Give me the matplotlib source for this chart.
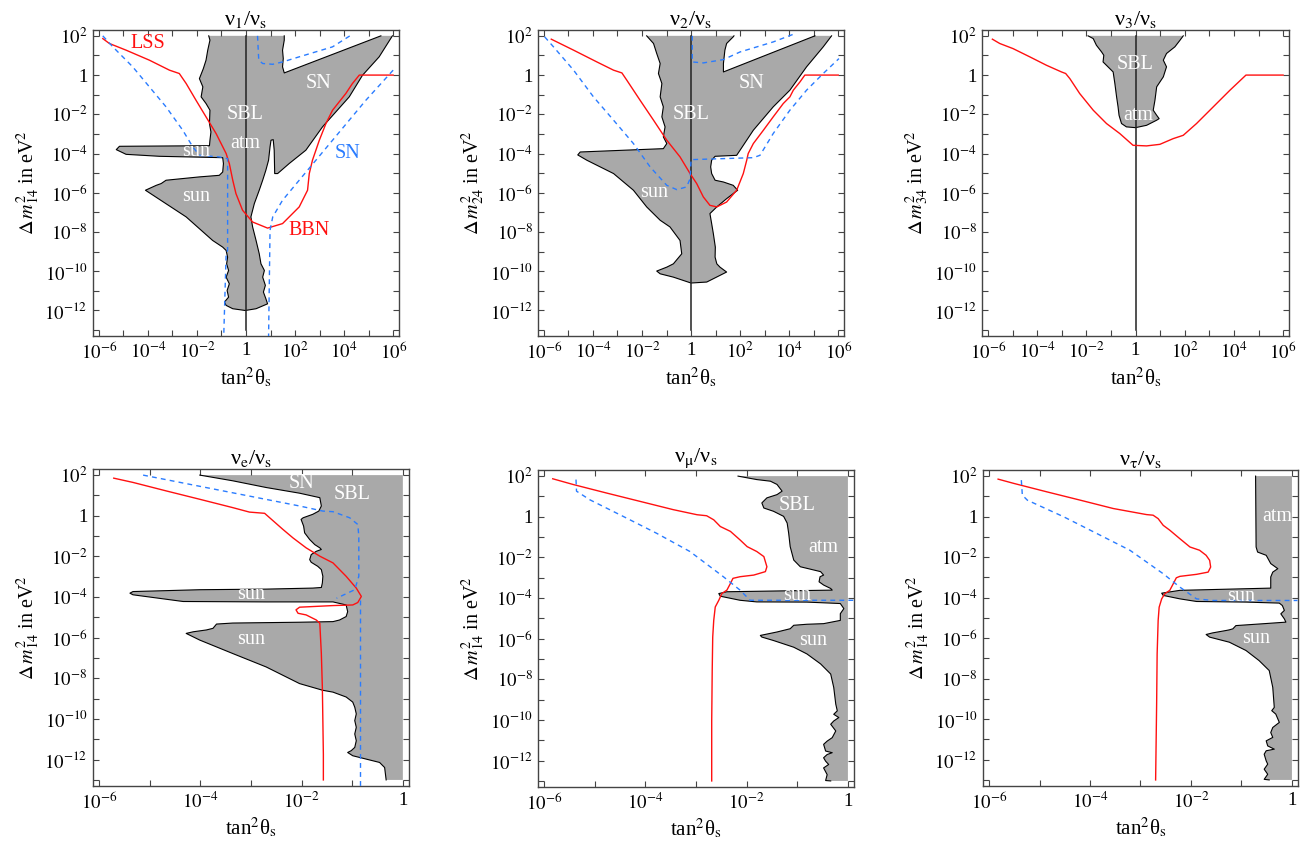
import numpy as np
import matplotlib
matplotlib.use('Agg')
import matplotlib.pyplot as plt
from matplotlib.ticker import FixedLocator, FixedFormatter, NullFormatter

plt.rcParams['font.family'] = ['Liberation Serif', 'DejaVu Serif']
plt.rcParams['mathtext.fontset'] = 'stix'

GREY = '#a9a9a9'
RED = '#ff1010'
BLUE = '#2a7cff'
FRAME = '#444444'

# all values are log10 exponents: (log10 tan^2 theta_s, log10 dm^2)
# ---- panel 1: nu_1 / nu_s ----
P1_GRAY = [(-1.52, 2.0), (-1.47, 1.78), (-1.56, 1.27), (-1.63, 0.76), (-1.74, 0.33), (-1.90, -0.18),
           (-1.76, -0.60), (-1.83, -1.11), (-1.63, -1.45), (-1.47, -1.79), (-1.49, -2.47), (-1.43, -2.90),
           (-1.47, -3.32), (-1.49, -3.60), (-5.16, -3.63), (-5.29, -3.80), (-4.89, -4.04), (-3.53, -4.14),
           (-0.95, -4.21), (-0.92, -4.51), (-0.95, -4.94), (-1.09, -5.11), (-1.90, -5.19), (-3.26, -5.36),
           (-3.46, -5.53), (-3.66, -5.62), (-4.10, -5.87), (-2.44, -7.23), (-1.36, -8.43), (-0.95, -8.77),
           (-0.81, -8.94), (-0.75, -9.28), (-0.79, -9.62), (-0.71, -9.96), (-0.81, -10.30), (-0.68, -10.64),
           (-0.77, -10.98), (-0.71, -11.32), (-0.88, -11.57), (-0.81, -11.74), (-0.54, -11.91), (-0.03, -12.0),
           (0.41, -11.91), (0.88, -11.66), (0.81, -11.40), (0.71, -11.06), (0.79, -10.72), (0.68, -10.30),
           (0.75, -9.96), (0.61, -9.62), (0.54, -9.11), (0.41, -8.43), (0.27, -7.74), (0.20, -7.23),
           (0.34, -6.55), (0.54, -5.87), (0.68, -5.36), (0.81, -4.85), (0.92, -4.34), (0.98, -3.66),
           (1.02, -3.32), (1.11, -3.29), (1.15, -3.83), (1.17, -5.02), (1.29, -5.02), (1.76, -4.51),
           (2.44, -3.83), (3.12, -2.64), (4.21, -1.11), (4.75, -0.01), (5.43, 0.93), (5.97, 2.0),
           (5.50, 2.0), (1.56, 0.11), (1.49, 0.42), (1.52, 0.84), (1.49, 1.27), (1.56, 1.78), (1.56, 2.0)]
P1_RED = [(-5.84, 1.86), (-5.57, 1.61), (-4.89, 1.27), (-3.94, 0.76), (-3.12, 0.25), (-2.72, 0.08),
          (-2.44, -0.43), (-2.04, -1.28), (-1.63, -2.13), (-1.22, -2.98), (-0.81, -4.00), (-0.68, -4.51),
          (-0.54, -5.36), (-0.41, -6.04), (-0.14, -6.89), (0.27, -7.49), (0.88, -7.80), (1.49, -7.57),
          (2.17, -6.72), (2.51, -5.87), (2.58, -5.02), (2.71, -4.34), (2.99, -3.32), (3.26, -2.47),
          (3.53, -1.79), (4.07, -0.94), (4.34, -0.43), (4.62, 0.0), (6.0, 0.0)]
P1_BLUE = [
    [(-5.84, 2.0), (-5.43, 1.44), (-4.62, 0.42), (-3.94, -0.60), (-3.26, -1.62), (-2.58, -2.81),
     (-2.17, -3.66), (-1.90, -4.09), (-1.09, -4.17), (-0.75, -4.26), (-0.75, -8.94), (-0.81, -9.11),
     (-0.91, -13.4)],
    [(0.47, 2.0), (0.52, 0.76), (0.68, 0.59), (1.09, 0.55), (1.49, 0.67), (2.17, 0.93), (3.53, 1.44),
     (4.30, 2.05)],
    [(6.0, 0.25), (4.89, -1.28), (3.53, -3.32), (2.17, -5.36), (1.49, -6.38), (1.09, -7.23),
     (0.98, -7.91), (0.92, -13.4)],
]
P1_LABELS = [('LSS', -4.0, 1.6, RED), ('BBN', 2.58, -7.9, RED), ('SN', 4.14, -4.0, BLUE),
             ('SN', 2.96, -0.43, 'white'), ('SBL', -0.03, -2.0, 'white'), ('atm', -0.03, -3.49, 'white'),
             ('sun', -2.04, -3.92, 'white'), ('sun', -2.04, -6.21, 'white')]

# ---- panel 2: nu_2 / nu_s ----
P2_GRAY = [(-1.81, 2.0), (-1.53, 1.61), (-1.40, 1.10), (-1.26, 0.59), (-1.33, 0.08), (-1.19, -0.43),
           (-1.26, -1.11), (-1.13, -1.62), (-1.19, -2.13), (-1.06, -2.64), (-1.13, -3.15), (-0.99, -3.49),
           (-1.13, -3.75), (-4.52, -3.92), (-4.62, -4.07), (-4.25, -4.34), (-3.16, -5.02), (-2.35, -5.87),
           (-1.81, -6.72), (-1.26, -7.40), (-0.86, -7.74), (-0.45, -8.43), (-0.38, -9.11), (-0.72, -9.62),
           (-0.99, -9.79), (-1.40, -9.99), (-1.26, -10.13), (-0.72, -10.30), (0.0, -10.60), (0.64, -10.55),
           (1.45, -10.04), (1.18, -9.79), (1.05, -9.62), (0.98, -9.28), (0.99, -8.77), (0.91, -8.09),
           (0.84, -7.57), (0.77, -7.06), (1.05, -6.72), (1.45, -6.30), (1.90, -5.87), (1.72, -5.62),
           (1.32, -5.45), (0.98, -5.36), (0.84, -5.02), (0.80, -4.68), (0.84, -4.34), (0.98, -4.14),
           (1.86, -4.09), (2.54, -2.81), (3.35, -1.62), (4.03, -0.77), (4.71, 0.42), (5.39, 1.44),
           (5.73, 2.0), (5.05, 2.0), (1.32, 0.16), (1.32, 0.59), (1.38, 1.27), (1.45, 1.61), (1.72, 1.95),
           (1.75, 2.0)]
P2_RED = [(-5.70, 1.83), (-4.79, 1.27), (-3.84, 0.67), (-3.16, 0.25), (-2.82, 0.11), (-2.62, -0.26),
          (-2.08, -1.28), (-1.53, -2.30), (-0.99, -3.32), (-0.45, -4.17), (-0.04, -5.02), (0.23, -5.53),
          (0.50, -6.21), (0.77, -6.64), (1.05, -6.72), (1.45, -6.47), (1.86, -5.87), (2.13, -5.02),
          (2.27, -4.34), (2.33, -4.0), (2.54, -3.49), (2.95, -2.81), (3.35, -2.13), (3.76, -1.45),
          (4.03, -1.11), (4.17, -0.77), (4.44, -0.35), (4.64, 0.0), (6.0, 0.0)]
P2_BLUE = [
    [(-5.97, 1.95), (-5.61, 1.44), (-4.79, 0.25), (-3.98, -1.11), (-3.16, -2.30), (-2.35, -3.49),
     (-1.67, -4.68), (-0.99, -5.62), (-0.58, -5.84), (-0.18, -5.70), (-0.04, -5.28), (0.0, -4.31),
     (2.54, -4.21), (2.81, -4.09), (3.35, -2.98), (4.03, -1.79), (4.71, -0.77), (5.39, 0.08),
     (6.03, 0.84)],
    [(0.05, 2.0), (0.05, 0.67), (0.50, 0.62), (1.32, 0.79), (2.0, 1.18), (3.35, 1.69), (4.17, 2.08)],
]
P2_LABELS = [('SN', 2.47, -0.43, 'white'), ('SBL', 0.0, -2.0, 'white'), ('sun', -1.51, -6.01, 'white')]

# ---- panel 3: nu_3 / nu_s ----
P3_GRAY = [(-1.93, 2.0), (-1.72, 1.86), (-1.59, 1.52), (-1.38, 1.18), (-1.29, 1.01), (-1.32, 0.67),
           (-0.91, 0.16), (-0.84, -0.43), (-0.77, -1.11), (-0.71, -1.62), (-0.67, -2.05), (-0.57, -2.47),
           (-0.37, -2.64), (0.0, -2.68), (0.45, -2.56), (0.86, -2.30), (0.96, -2.22), (0.86, -2.05),
           (0.72, -1.79), (0.79, -1.28), (0.86, -0.60), (1.13, -0.09), (1.26, 0.42), (1.13, 0.76),
           (1.26, 1.10), (1.60, 1.44), (1.81, 1.78), (1.94, 2.0)]
P3_RED = [(-5.82, 1.83), (-5.52, 1.61), (-4.98, 1.35), (-4.30, 0.93), (-3.62, 0.50), (-3.01, 0.16),
          (-2.84, 0.08), (-2.67, -0.18), (-2.27, -0.94), (-1.72, -1.79), (-1.18, -2.47), (-0.64, -2.98),
          (-0.10, -3.58), (0.45, -3.61), (0.99, -3.53), (1.53, -3.24), (1.94, -3.07), (2.48, -2.47),
          (3.16, -1.62), (3.84, -0.77), (4.49, 0.0), (6.0, 0.0)]
P3_BLUE = []
P3_LABELS = [('SBL', 0.0, 0.54, 'white'), ('atm', 0.1, -2.05, 'white')]

# ---- panel 4: nu_e / nu_s ----
P4_GRAY = [(-4.01, 2.0), (-3.36, 1.72), (-2.70, 1.39), (-2.04, 1.11), (-1.64, 0.89), (-1.61, 0.48),
           (-1.66, 0.23), (-1.78, 0.07), (-1.97, -0.10), (-2.01, -0.18), (-1.96, -0.51), (-1.94, -0.84),
           (-1.84, -1.17), (-1.74, -1.42), (-1.64, -1.58), (-1.61, -1.66), (-1.71, -1.75), (-1.81, -1.91),
           (-1.84, -2.16), (-1.81, -2.29), (-1.68, -2.49), (-1.61, -2.65), (-1.58, -2.98), (-1.59, -3.31),
           (-1.61, -3.53), (-1.78, -3.56), (-2.70, -3.61), (-4.01, -3.64), (-5.33, -3.73), (-5.39, -3.81),
           (-5.33, -3.89), (-4.34, -4.22), (-2.70, -4.24), (-1.38, -4.24), (-1.12, -4.39), (-1.09, -4.72),
           (-1.12, -4.96), (-1.25, -5.13), (-1.38, -5.21), (-2.04, -5.24), (-3.36, -5.28), (-3.68, -5.33),
           (-3.75, -5.54), (-3.88, -5.62), (-4.14, -5.71), (-4.28, -5.79), (-4.01, -6.12), (-3.36, -6.78),
           (-2.70, -7.44), (-2.04, -8.26), (-1.58, -8.59), (-1.38, -8.68), (-1.12, -8.92), (-0.99, -9.17),
           (-0.95, -9.42), (-0.92, -9.75), (-0.95, -10.08), (-0.92, -10.41), (-0.95, -10.74),
           (-0.92, -11.07), (-0.95, -11.40), (-1.02, -11.56), (-1.09, -11.65), (-0.99, -11.81),
           (-0.72, -11.98), (-0.46, -12.14), (-0.36, -12.39), (-0.33, -13.0), (0.0, -13.0), (0.0, 2.0)]
P4_RED = [(-5.71, 1.85), (-5.33, 1.64), (-4.67, 1.22), (-4.01, 0.81), (-3.36, 0.40), (-3.03, 0.18),
          (-2.73, 0.12), (-2.63, -0.10), (-2.37, -0.67), (-2.17, -1.09), (-1.91, -1.58), (-1.64, -1.99),
          (-1.38, -2.32), (-1.12, -2.98), (-0.92, -3.56), (-0.82, -3.97), (-0.89, -4.27), (-0.99, -4.39),
          (-1.38, -4.42), (-2.04, -4.50), (-2.11, -4.63), (-2.07, -4.80), (-1.91, -4.88), (-1.71, -5.13),
          (-1.64, -5.29), (-1.63, -5.79), (-1.61, -6.78), (-1.59, -8.43), (-1.58, -10.08),
          (-1.57, -11.73), (-1.57, -13.0)]
P4_BLUE = [
    [(-5.13, 2.0), (-2.04, 0.48), (-1.58, 0.23), (-1.38, 0.20), (-1.05, -0.10), (-0.89, -0.43),
     (-0.87, -1.0), (-0.87, -2.98), (-0.95, -3.64), (-1.31, -4.06)],
    [(-0.85, -4.14), (-0.85, -13.4)],
]
P4_LABELS = [('SN', -2.01, 1.59, 'white'), ('SBL', -1.01, 1.06, 'white'),
             ('sun', -2.99, -3.89, 'white'), ('sun', -2.99, -6.09, 'white')]

# ---- panel 5: nu_mu / nu_s ----
P5_GRAY = [(-2.17, 2.0), (-1.80, 1.83), (-1.53, 1.75), (-1.40, 1.59), (-1.30, 1.26), (-1.40, 1.09),
           (-1.60, 0.93), (-1.70, 0.68), (-1.66, 0.43), (-1.47, 0.27), (-1.27, 0.02), (-1.20, -0.31),
           (-1.17, -0.81), (-1.14, -1.47), (-1.07, -2.13), (-0.94, -2.46), (-0.67, -2.62), (-0.54, -2.70),
           (-0.48, -2.87), (-0.55, -2.95), (-0.57, -3.20), (-0.48, -3.36), (-0.34, -3.53), (-0.31, -3.61),
           (-1.14, -3.64), (-2.39, -3.69), (-2.55, -3.78), (-2.52, -3.91), (-2.13, -4.11), (-1.80, -4.19),
           (-0.81, -4.20), (-0.15, -4.27), (-0.08, -4.52), (-0.15, -4.77), (-0.15, -5.10), (-0.48, -5.26),
           (-0.81, -5.29), (-1.07, -5.34), (-1.14, -5.51), (-1.27, -5.59), (-1.40, -5.67), (-1.73, -5.84),
           (-1.70, -5.92), (-1.47, -6.09), (-1.07, -6.42), (-0.81, -6.75), (-0.54, -7.24), (-0.34, -7.74),
           (-0.28, -8.40), (-0.24, -9.22), (-0.21, -9.55), (-0.28, -9.72), (-0.18, -9.88), (-0.28, -10.05),
           (-0.34, -10.21), (-0.24, -10.54), (-0.31, -10.87), (-0.41, -11.04), (-0.48, -11.20),
           (-0.44, -11.53), (-0.31, -11.61), (-0.41, -11.70), (-0.48, -11.86), (-0.44, -12.03),
           (-0.38, -12.19), (-0.48, -12.36), (-0.41, -12.69), (-0.44, -12.98), (-0.34, -13.0),
           (0.0, -13.0), (0.0, 2.0)]
P5_RED = [(-5.83, 1.87), (-5.43, 1.59), (-4.77, 1.17), (-4.11, 0.76), (-3.45, 0.35), (-2.98, 0.10),
          (-2.79, 0.05), (-2.65, -0.15), (-2.52, -0.48), (-2.32, -0.72), (-2.13, -1.14), (-1.99, -1.47),
          (-1.80, -1.71), (-1.66, -1.96), (-1.60, -2.46), (-1.63, -2.70), (-1.86, -2.87), (-2.13, -2.95),
          (-2.27, -3.03), (-2.32, -3.28), (-2.39, -3.61), (-2.49, -3.78), (-2.55, -4.11), (-2.62, -4.44),
          (-2.65, -5.10), (-2.67, -5.92), (-2.68, -7.57), (-2.69, -10.05), (-2.69, -13.0)]
P5_BLUE = [
    [(-5.37, 1.83), (-5.36, 1.26), (-5.10, 0.84), (-4.44, 0.02), (-3.78, -0.81), (-3.12, -1.71),
     (-2.46, -2.95), (-2.13, -3.61), (-1.93, -4.11), (-1.47, -4.11), (0.14, -4.11)],
]
P5_LABELS = [('SBL', -1.0, 0.55, 'white'), ('atm', -0.49, -1.51, 'white'),
             ('sun', -1.0, -3.89, 'white'), ('sun', -0.69, -6.09, 'white')]

# ---- panel 6: nu_tau / nu_s ----
P6_GRAY = [(-0.72, 2.0), (-0.71, -1.50), (-0.68, -1.75), (-0.51, -1.91), (-0.42, -2.32), (-0.28, -2.57),
           (-0.38, -2.74), (-0.42, -2.98), (-0.42, -3.53), (-0.91, -3.56), (-2.22, -3.64), (-2.58, -3.78),
           (-2.55, -3.89), (-2.22, -4.06), (-1.89, -4.19), (-0.91, -4.22), (-0.25, -4.27), (-0.19, -4.39),
           (-0.15, -4.63), (-0.22, -4.80), (-0.15, -5.05), (-0.12, -5.21), (-0.58, -5.29), (-1.11, -5.38),
           (-1.17, -5.54), (-1.24, -5.59), (-1.30, -5.62), (-1.57, -5.74), (-1.70, -5.82), (-1.63, -5.95),
           (-1.24, -6.20), (-0.91, -6.61), (-0.65, -7.11), (-0.45, -7.60), (-0.38, -8.43), (-0.35, -9.42),
           (-0.40, -9.58), (-0.32, -9.75), (-0.25, -10.16), (-0.38, -10.41), (-0.42, -10.66),
           (-0.38, -10.90), (-0.51, -11.07), (-0.48, -11.32), (-0.35, -11.48), (-0.51, -11.56),
           (-0.55, -11.73), (-0.51, -12.06), (-0.48, -12.22), (-0.55, -12.47), (-0.48, -12.72),
           (-0.55, -12.97), (-0.45, -13.0), (0.0, -13.0), (0.0, 2.0)]
P6_RED = [(-5.82, 1.85), (-5.51, 1.64), (-4.85, 1.22), (-4.19, 0.81), (-3.54, 0.40), (-2.88, 0.10),
          (-2.75, 0.07), (-2.65, -0.10), (-2.55, -0.43), (-2.42, -0.67), (-2.22, -1.09), (-2.02, -1.50),
          (-1.83, -1.66), (-1.70, -1.91), (-1.63, -2.16), (-1.61, -2.49), (-1.66, -2.74), (-1.89, -2.85),
          (-2.22, -2.95), (-2.29, -3.02), (-2.35, -3.31), (-2.42, -3.64), (-2.52, -3.81), (-2.58, -4.06),
          (-2.63, -4.47), (-2.65, -5.13), (-2.67, -6.78), (-2.68, -9.25), (-2.70, -13.0)]
P6_BLUE = [
    [(-5.36, 1.80), (-5.34, 1.06), (-5.24, 0.81), (-4.52, -0.01), (-3.86, -0.84), (-3.21, -1.66),
     (-2.55, -2.82), (-2.22, -3.48), (-1.89, -4.06), (-1.57, -4.14), (0.11, -4.14)],
]
P6_LABELS = [('atm', -0.30, -0.01, 'white'), ('sun', -1.01, -3.92, 'white'), ('sun', -0.71, -6.04, 'white')]

TITLES = ['ν$_1$/ν$_\\mathrm{s}$', 'ν$_2$/ν$_\\mathrm{s}$', 'ν$_3$/ν$_\\mathrm{s}$',
          'ν$_\\mathrm{e}$/ν$_\\mathrm{s}$', 'ν$_\\mathrm{μ}$/ν$_\\mathrm{s}$', 'ν$_\\mathrm{τ}$/ν$_\\mathrm{s}$']
YLABELS = ['14', '24', '34', '14', '14', '14']
X_TICKS_TOP = [-6, -4, -2, 0, 2, 4, 6]
X_TICKS_BOT = [-6, -4, -2, 0]
Y_TICKS = [2, 0, -2, -4, -6, -8, -10, -12]

PANELS = [
    (P1_GRAY, P1_RED, P1_BLUE, P1_LABELS),
    (P2_GRAY, P2_RED, P2_BLUE, P2_LABELS),
    (P3_GRAY, P3_RED, P3_BLUE, P3_LABELS),
    (P4_GRAY, P4_RED, P4_BLUE, P4_LABELS),
    (P5_GRAY, P5_RED, P5_BLUE, P5_LABELS),
    (P6_GRAY, P6_RED, P6_BLUE, P6_LABELS),
]

AX_RECTS = [
    [0.0713, 0.6019, 0.2347, 0.3626], [0.4126, 0.6019, 0.2347, 0.3626], [0.7531, 0.6019, 0.2354, 0.3626],
    [0.0713, 0.0687, 0.2423, 0.3756], [0.4126, 0.0675, 0.2423, 0.3756], [0.7538, 0.0687, 0.2416, 0.3744],
]


def exp_label(e):
    return '1' if e == 0 else r'$10^{%d}$' % e


def outline_xy(pts, xmax):
    # polygon outline, leaving out the straight pieces lying on the data border
    xs, ys = [], []
    n = len(pts)
    for i in range(n):
        (x0, y0), (x1, y1) = pts[i], pts[(i + 1) % n]
        on_edge = (y0 == y1 and y0 in (2.0, -13.0)) or (x0 == x1 == xmax)
        if on_edge:
            xs.append(np.nan)
            ys.append(np.nan)
            continue
        xs += [x0, x1]
        ys += [y0, y1]
    return 10 ** np.array(xs), 10 ** np.array(ys)


fig = plt.figure(figsize=(13.04, 8.44), dpi=100)

for k, (gray, red, blues, labels) in enumerate(PANELS):
    ax = fig.add_axes(AX_RECTS[k])
    top = k < 3
    ax.set_xscale('log')
    ax.set_yscale('log')

    g = np.array(gray)
    ax.fill(10 ** g[:, 0], 10 ** g[:, 1], facecolor=GREY, edgecolor='none', zorder=1)
    ox, oy = outline_xy(gray, 6.0 if top else 0.0)
    ax.plot(ox, oy, color='black', lw=0.8, zorder=2)

    if top:
        ax.plot([1, 1], [1e-13, 1e2], color='#222222', lw=1.1, zorder=3)

    r = np.array(red)
    ax.plot(10 ** r[:, 0], 10 ** r[:, 1], color=RED, lw=1.0, zorder=4)
    for b in blues:
        b = np.array(b)
        ax.plot(10 ** b[:, 0], 10 ** b[:, 1], color=BLUE, lw=1.0, ls=(0, (3.5, 3)), zorder=4)

    for s, lx, ly, c in labels:
        ax.text(10 ** lx, 10 ** ly, s, color=c, fontsize=14.5, ha='center', va='center', zorder=5)

    if top:
        ax.set_xlim(10 ** -6.24, 10 ** 6.24)
        xt = X_TICKS_TOP
        xminor = [-5, -3, -1, 1, 3, 5]
    else:
        ax.set_xlim(10 ** -6.12, 10 ** 0.12)
        xt = X_TICKS_BOT
        xminor = [-5, -3, -1]
    ax.set_ylim(10 ** -13.3, 10 ** 2.3)

    ax.xaxis.set_major_locator(FixedLocator([10.0 ** e for e in xt]))
    ax.xaxis.set_major_formatter(FixedFormatter([exp_label(e) for e in xt]))
    ax.xaxis.set_minor_locator(FixedLocator([10.0 ** e for e in xminor]))
    ax.xaxis.set_minor_formatter(NullFormatter())
    ax.yaxis.set_major_locator(FixedLocator([10.0 ** e for e in Y_TICKS]))
    ax.yaxis.set_major_formatter(FixedFormatter([exp_label(e) for e in Y_TICKS]))
    ax.yaxis.set_minor_locator(FixedLocator([10.0 ** e for e in range(-13, 2, 2)]))
    ax.yaxis.set_minor_formatter(NullFormatter())
    ax.tick_params(which='both', direction='in', top=True, right=True, length=4, width=0.8,
                   color=FRAME, labelsize=13.5, pad=4)
    for sp in ax.spines.values():
        sp.set_color(FRAME)
        sp.set_linewidth(1.0)

    ax.set_title(TITLES[k], fontsize=16, pad=3)
    ax.set_xlabel('tan$^2$θ$_\\mathrm{s}$', fontsize=15, labelpad=2)
    ax.set_ylabel(r'$\Delta\,m^2_{%s}$ in eV$^2$' % YLABELS[k], fontsize=14.5, labelpad=2)

fig.savefig('out.png', dpi=100)
